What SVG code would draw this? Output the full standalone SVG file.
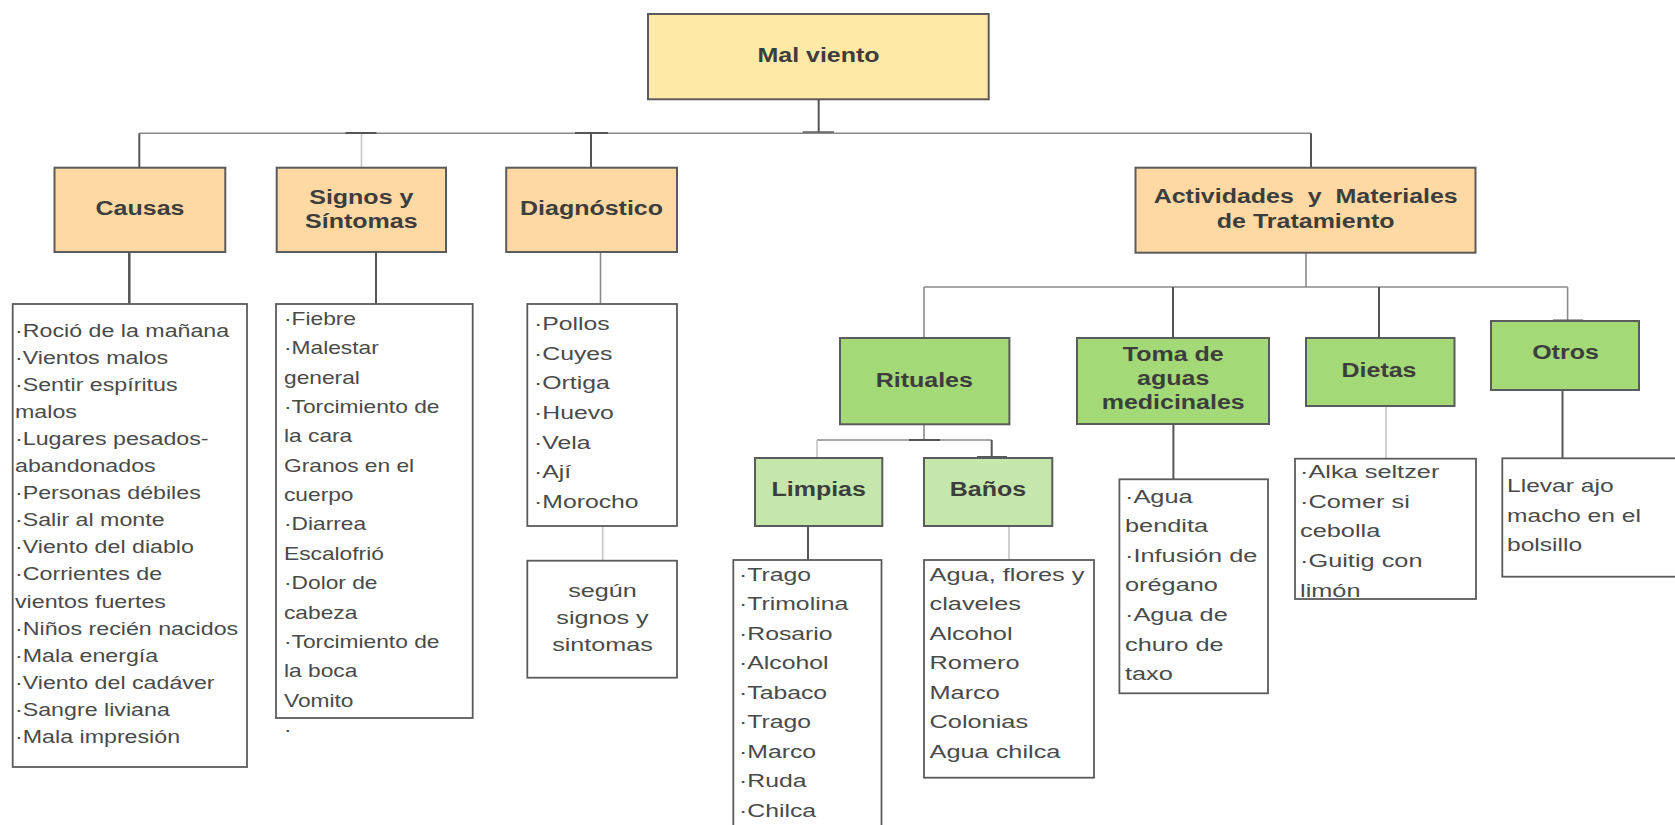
<svg xmlns="http://www.w3.org/2000/svg" width="1675" height="825" viewBox="0 0 1675 825">
<style>
.box{stroke:#5b5b5b;stroke-width:2}
.root{fill:#FFE9A6}
.l1{fill:#FFD9A3}
.l2{fill:#A3D977}
.l3{fill:#C6E7AB}
.list{fill:#ffffff;stroke:#5b5b5b;stroke-width:1.8}
.h{font-family:"Liberation Sans",Arial,sans-serif;font-weight:bold;font-size:20px;fill:#3d3d3d;text-anchor:middle}
.t{font-family:"Liberation Sans",Arial,sans-serif;font-size:18.5px;fill:#4a4a4a}
.c{text-anchor:middle}
.dk{stroke:#555;stroke-width:2;fill:none}
.md{stroke:#8a8a8a;stroke-width:1.6;fill:none}
.lt{stroke:#c4c4c4;stroke-width:1.6;fill:none}
</style>

<g id="connectors">
  <line class="dk" x1="818.7" y1="99" x2="818.7" y2="133"/>
  <line class="dk" x1="802.7" y1="132.3" x2="834" y2="132.3"/>
  <line class="md" x1="139.3" y1="133.3" x2="1311" y2="133.3"/>
  <line class="dk" x1="345.5" y1="133" x2="376.5" y2="133"/>
  <line class="dk" x1="575" y1="133" x2="608" y2="133"/>
  <line class="dk" x1="139.3" y1="133.3" x2="139.3" y2="168"/>
  <line class="lt" x1="361.5" y1="134" x2="361.5" y2="168"/>
  <line class="dk" x1="591" y1="133.3" x2="591" y2="168"/>
  <line class="dk" x1="1311" y1="133.3" x2="1311" y2="168"/>
  <line class="dk" x1="129.3" y1="252" x2="129.3" y2="304" style="stroke-width:2.5"/>
  <line class="dk" x1="376" y1="252" x2="376" y2="304"/>
  <line class="md" x1="600.5" y1="252" x2="600.5" y2="304"/>
  <line class="lt" x1="602.7" y1="526" x2="602.7" y2="560.7"/>
  <line class="md" x1="1306" y1="253" x2="1306" y2="287"/>
  <line class="md" x1="924" y1="287" x2="1567.6" y2="287"/>
  <line class="md" x1="924" y1="287" x2="924" y2="338"/>
  <line class="dk" x1="1173" y1="287" x2="1173" y2="338"/>
  <line class="dk" x1="1379" y1="287" x2="1379" y2="338"/>
  <line class="md" x1="1567.6" y1="287" x2="1567.6" y2="321"/>
  <line class="dk" x1="1553" y1="320.5" x2="1583" y2="320.5"/>
  <line class="md" x1="924" y1="424" x2="924" y2="440"/>
  <line class="md" x1="817" y1="440" x2="991.7" y2="440"/>
  <line class="dk" x1="909" y1="440" x2="940" y2="440"/>
  <line class="lt" x1="817" y1="440" x2="817" y2="458"/>
  <line class="dk" x1="991.7" y1="440" x2="991.7" y2="458"/>
  <line class="dk" x1="977" y1="457" x2="1007" y2="457"/>
  <line class="dk" x1="808" y1="526" x2="808" y2="560"/>
  <line class="lt" x1="1009" y1="526" x2="1009" y2="560"/>
  <line class="dk" x1="1173.4" y1="424" x2="1173.4" y2="479.3"/>
  <line class="lt" x1="1386" y1="406" x2="1386" y2="458.7"/>
  <line class="dk" x1="1562.5" y1="390" x2="1562.5" y2="458.3"/>
</g>

<g id="mal-viento">
  <rect class="box root" x="648" y="14" width="340.7" height="85.3"/>
  <text class="h" transform="matrix(1.25 0 0 1 818.5 0)" x="0" y="61.7">Mal viento</text>
</g>

<g id="causas">
  <rect class="box l1" x="54.5" y="167.7" width="170.8" height="84.3"/>
  <text class="h" transform="matrix(1.25 0 0 1 140 0)" x="0" y="215">Causas</text>
</g>

<g id="signos">
  <rect class="box l1" x="276.7" y="167.7" width="169.3" height="84.3"/>
  <text class="h" transform="matrix(1.25 0 0 1 361.3 0)" x="0" y="204.3">Signos y</text>
  <text class="h" transform="matrix(1.25 0 0 1 361.3 0)" x="0" y="228.3">Síntomas</text>
</g>

<g id="diagnostico">
  <rect class="box l1" x="506.2" y="167.7" width="170.8" height="84.3"/>
  <text class="h" transform="matrix(1.25 0 0 1 591.5 0)" x="0" y="215">Diagnóstico</text>
</g>

<g id="actividades">
  <rect class="box l1" x="1135.5" y="167.7" width="340" height="85"/>
  <text class="h" transform="matrix(1.25 0 0 1 1305.7 0)" x="0" y="203.3" xml:space="preserve">Actividades  y  Materiales</text>
  <text class="h" transform="matrix(1.25 0 0 1 1305.7 0)" x="0" y="227.7">de Tratamiento</text>
</g>

<g id="rituales">
  <rect class="box l2" x="840" y="338" width="169.4" height="86.3"/>
  <text class="h" transform="matrix(1.25 0 0 1 924.3 0)" x="0" y="386.7">Rituales</text>
</g>

<g id="toma">
  <rect class="box l2" x="1077" y="338" width="192" height="86"/>
  <text class="h" transform="matrix(1.25 0 0 1 1173.2 0)" x="0" y="360.7">Toma de</text>
  <text class="h" transform="matrix(1.25 0 0 1 1173.2 0)" x="0" y="385">aguas</text>
  <text class="h" transform="matrix(1.25 0 0 1 1173.2 0)" x="0" y="409.3">medicinales</text>
</g>

<g id="dietas">
  <rect class="box l2" x="1306" y="338" width="148.5" height="68"/>
  <text class="h" transform="matrix(1.25 0 0 1 1379 0)" x="0" y="376.7">Dietas</text>
</g>

<g id="otros">
  <rect class="box l2" x="1491" y="321" width="148" height="69"/>
  <text class="h" transform="matrix(1.25 0 0 1 1565.5 0)" x="0" y="359.3">Otros</text>
</g>

<g id="limpias">
  <rect class="box l3" x="755" y="458" width="127.3" height="68"/>
  <text class="h" transform="matrix(1.25 0 0 1 818.7 0)" x="0" y="495.7">Limpias</text>
</g>

<g id="banos">
  <rect class="box l3" x="924" y="458" width="128.3" height="68"/>
  <text class="h" transform="matrix(1.25 0 0 1 988 0)" x="0" y="495.7">Baños</text>
</g>

<g id="causas-lista">
  <rect class="list" x="12.7" y="304" width="234.3" height="463"/>
  <g class="t" transform="matrix(1.255 0 0 1 15 0)">
    <text x="0" y="336.7">·Roció de la mañana</text>
    <text x="0" y="363.8">·Vientos malos</text>
    <text x="0" y="390.9">·Sentir espíritus</text>
    <text x="0" y="418">malos</text>
    <text x="0" y="445.1">·Lugares pesados-</text>
    <text x="0" y="472.1">abandonados</text>
    <text x="0" y="499.2">·Personas débiles</text>
    <text x="0" y="526.3">·Salir al monte</text>
    <text x="0" y="553.4">·Viento del diablo</text>
    <text x="0" y="580.5">·Corrientes de</text>
    <text x="0" y="607.6">vientos fuertes</text>
    <text x="0" y="634.7">·Niños recién nacidos</text>
    <text x="0" y="661.8">·Mala energía</text>
    <text x="0" y="688.9">·Viento del cadáver</text>
    <text x="0" y="716">·Sangre liviana</text>
    <text x="0" y="743">·Mala impresión</text>
  </g>
</g>

<g id="signos-lista">
  <rect class="list" x="276" y="304" width="196.7" height="414"/>
  <g class="t" transform="matrix(1.23 0 0 1 284 0)">
    <text x="0" y="325">·Fiebre</text>
    <text x="0" y="354.4">·Malestar</text>
    <text x="0" y="383.7">general</text>
    <text x="0" y="413.1">·Torcimiento de</text>
    <text x="0" y="442.4">la cara</text>
    <text x="0" y="471.8">Granos en el</text>
    <text x="0" y="501.2">cuerpo</text>
    <text x="0" y="530.5">·Diarrea</text>
    <text x="0" y="559.9">Escalofrió</text>
    <text x="0" y="589.2">·Dolor de</text>
    <text x="0" y="618.6">cabeza</text>
    <text x="0" y="648">·Torcimiento de</text>
    <text x="0" y="677.3">la boca</text>
    <text x="0" y="706.7">Vomito</text>
    <text x="0" y="736">·</text>
  </g>
</g>

<g id="diagnostico-lista">
  <rect class="list" x="527.3" y="304" width="149.7" height="222"/>
  <g class="t" transform="matrix(1.34 0 0 1 534 0)">
    <text x="0" y="330">·Pollos</text>
    <text x="0" y="359.7">·Cuyes</text>
    <text x="0" y="389.4">·Ortiga</text>
    <text x="0" y="419.1">·Huevo</text>
    <text x="0" y="448.8">·Vela</text>
    <text x="0" y="478.5">·Ají</text>
    <text x="0" y="508.2">·Morocho</text>
  </g>
</g>

<g id="segun">
  <rect class="list" x="527.3" y="560.7" width="149.7" height="117"/>
  <g class="t c" transform="matrix(1.36 0 0 1 602.5 0)">
    <text x="0" y="596.7">según</text>
    <text x="0" y="624">signos y</text>
    <text x="0" y="650.7">sintomas</text>
  </g>
</g>

<g id="limpias-lista">
  <rect class="list" x="733.3" y="560" width="148.2" height="290"/>
  <g class="t" transform="matrix(1.34 0 0 1 739 0)">
    <text x="0" y="580.7">·Trago</text>
    <text x="0" y="610.2">·Trimolina</text>
    <text x="0" y="639.7">·Rosario</text>
    <text x="0" y="669.2">·Alcohol</text>
    <text x="0" y="698.7">·Tabaco</text>
    <text x="0" y="728.2">·Trago</text>
    <text x="0" y="757.7">·Marco</text>
    <text x="0" y="787.2">·Ruda</text>
    <text x="0" y="816.7">·Chilca</text>
  </g>
</g>

<g id="banos-lista">
  <rect class="list" x="924" y="560" width="170" height="217.7"/>
  <g class="t" transform="matrix(1.37 0 0 1 929.5 0)">
    <text x="0" y="580.7">Agua, flores y</text>
    <text x="0" y="610.3">claveles</text>
    <text x="0" y="639.8">Alcohol</text>
    <text x="0" y="669.4">Romero</text>
    <text x="0" y="699">Marco</text>
    <text x="0" y="728.5">Colonias</text>
    <text x="0" y="758.1">Agua chilca</text>
  </g>
</g>

<g id="toma-lista">
  <rect class="list" x="1119.4" y="479.3" width="148.6" height="214"/>
  <g class="t" transform="matrix(1.37 0 0 1 1125 0)">
    <text x="0" y="502.7">·Agua</text>
    <text x="0" y="532.3">bendita</text>
    <text x="0" y="561.9">·Infusión de</text>
    <text x="0" y="591.5">orégano</text>
    <text x="0" y="621.1">·Agua de</text>
    <text x="0" y="650.7">churo de</text>
    <text x="0" y="680.3">taxo</text>
  </g>
</g>

<g id="dietas-lista">
  <rect class="list" x="1295" y="458.7" width="181" height="140.3"/>
  <g class="t" transform="matrix(1.37 0 0 1 1300 0)">
    <text x="0" y="478.3">·Alka seltzer</text>
    <text x="0" y="507.9">·Comer si</text>
    <text x="0" y="537.5">cebolla</text>
    <text x="0" y="567.1">·Guitig con</text>
    <text x="0" y="596.7">limón</text>
  </g>
</g>

<g id="otros-lista">
  <rect class="list" x="1502.3" y="458.3" width="180" height="118.4"/>
  <g class="t" transform="matrix(1.33 0 0 1 1507 0)">
    <text x="0" y="491.7">Llevar ajo</text>
    <text x="0" y="521.7">macho en el</text>
    <text x="0" y="551">bolsillo</text>
  </g>
</g>
</svg>
